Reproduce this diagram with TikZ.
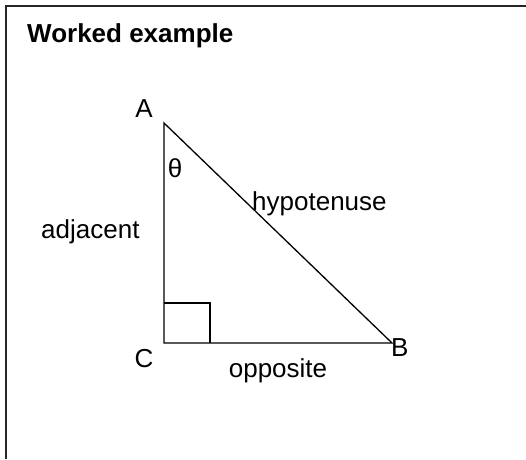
\documentclass[tikz,border=0pt]{standalone}
\usepackage{fontspec}
\setmainfont{Liberation Sans}
\begin{document}
\begin{tikzpicture}[x=1pt,y=1pt,
  lbl/.style={inner sep=0pt, font=\fontsize{26}{30}\selectfont},
  ttl/.style={inner sep=0pt, font=\fontsize{26}{30}\selectfont\bfseries},
  edge/.style={line width=1.3pt, line join=miter},
  frame/.style={line width=2pt, draw=black!85}]
\useasboundingbox (0,0) rectangle (526,459);
% frame (cropped on right and bottom)
\coordinate (F1) at (6,0);
\coordinate (F2) at (6,453);
\coordinate (F3) at (526,453);
\draw[frame] (F1) -- (F2) -- (F3);
% triangle
\coordinate (A) at (164,336);
\coordinate (C) at (164,116);
\coordinate (B) at (392,116);
\draw[edge] (A) -- (C) -- (B) -- cycle;
% right-angle mark
\coordinate (S1) at (164,156);
\coordinate (S2) at (210,156);
\coordinate (S3) at (210,116);
\draw[edge] (S1) -- (S2) -- (S3);
% labels
\node[ttl, anchor=base west] (title) at (27,417) {Worked example};
\node[lbl, anchor=base] (lA) at (144,342) {A};
\node[lbl, anchor=base] (lth) at (175,282) {θ};
\node[lbl, anchor=base west] (hyp) at (252,248.5) {hypotenuse};
\node[lbl, anchor=base west] (adj) at (41,220.5) {adjacent};
\node[lbl, anchor=base] (lC) at (144,92) {C};
\node[lbl, anchor=base west] (lB) at (391,103) {B};
\node[lbl, anchor=base] (opp) at (278,82) {opposite};
\end{tikzpicture}
\end{document}
